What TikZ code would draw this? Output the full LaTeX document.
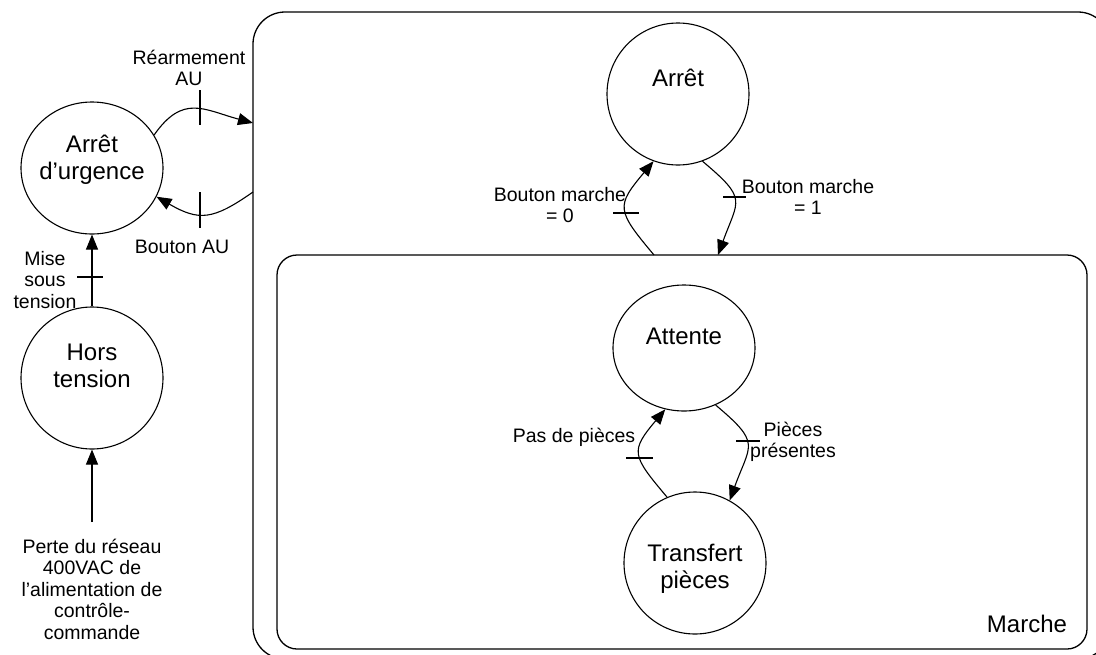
\documentclass[tikz,border=0pt]{standalone}
\usepackage{fontspec}
\setmainfont{Liberation Sans}
\usetikzlibrary{shapes.geometric,arrows.meta}
\begin{document}
\begin{tikzpicture}[x=1pt,y=-1pt,line width=1.1pt,
  state/.style n args={2}{draw,ellipse,inner sep=0pt,minimum width=#1,minimum height=#2},
  big/.style={font=\fontsize{24pt}{27pt}\selectfont,inner sep=0pt,align=center},
  small/.style={font=\fontsize{19.5pt}{21.5pt}\selectfont,inner sep=0pt,align=center},
  trans/.style={-{Triangle[length=15pt,width=12pt]}},
  tickmark/.style={line width=1.1pt},
  frame/.style={draw,rectangle,inner sep=0pt,line width=1.3pt}]
\useasboundingbox (0,0) rectangle (1096,654);
\clip (0,0) rectangle (1096,654);
% super-states
\node[frame,rounded corners=32pt,minimum width=857pt,minimum height=647pt] (outer) at (681.5,335.5) {};
\node[frame,rounded corners=20pt,minimum width=810pt,minimum height=394pt] (inner) at (682,452) {};
% states
\node[state={142}{132}] (au) at (92,168) {};
\node[state={142}{142}] (ht) at (92,378) {};
\node[state={142}{142}] (arret) at (678,94) {};
\node[state={142}{126}] (att) at (684,348) {};
\node[state={142}{142}] (tp) at (695,563) {};
% state texts
\node[big,anchor=base] (tArret) at (678,86) {Arrêt};
\node[big] (tAU) at (92,160) {Arrêt\\d’urgence};
\node[big] (tHT) at (92,366) {Hors\\tension};
\node[big,anchor=base] (tAtt) at (684,344) {Attente};
\node[big] (tTP) at (695,569) {Transfert\\pièces};
\node[big,anchor=base] (tMarche) at (1027,632) {Marche};
% transition labels
\node[small] (lRe) at (189,68) {Réarmement\\AU};
\node[small,anchor=base] (lBAU) at (182,253) {Bouton AU};
\node[small] (lMise) at (45,280) {Mise\\sous\\tension};
\node[small] (lPerte) at (92,589) {Perte du réseau\\400VAC de\\l’alimentation de\\contrôle-\\commande};
\node[small] (lB0) at (560,205) {Bouton marche\\= 0};
\node[small] (lB1) at (808,197) {Bouton marche\\= 1};
\node[small,anchor=base] (lPas) at (574,442) {Pas de pièces};
\node[small] (lPres) at (793,442) {Pièces\\présentes};
% attachment points on frames
\coordinate (reIn) at (253,123);
\coordinate (bauOut) at (253,192);
\coordinate (m1In) at (718,255);
\coordinate (m0Out) at (654,255);
\coordinate (perteTop) at (92,522);
% connectors
\draw[trans] (au.28) to[out=55,in=165,looseness=1.3] (reIn);
\draw[trans] (bauOut) to[out=-145,in=-30,looseness=1.3] (au.-24);
\draw[trans] (ht.north) -- (au.south);
\draw[trans] (perteTop) -- (ht.south);
\draw[trans] (arret.-70) to[out=-40,in=70,looseness=1.6] (m1In);
\draw[trans] (m0Out) to[out=130,in=-130,looseness=1.6] (arret.-110);
\draw[trans] (att.-61) to[out=-40,in=70,looseness=1.6] (tp.61);
\draw[trans] (tp.113) to[out=130,in=-130,looseness=1.6] (att.-107);
% transition bars
\draw[tickmark] (200,90) -- (200,125);
\draw[tickmark] (200,192) -- (200,228);
\draw[tickmark] (77,277) -- (103,277);
\draw[tickmark] (613,213) -- (639,213);
\draw[tickmark] (723,197) -- (746,197);
\draw[tickmark] (626,458) -- (653,458);
\draw[tickmark] (736,441) -- (760,441);
\end{tikzpicture}
\end{document}
